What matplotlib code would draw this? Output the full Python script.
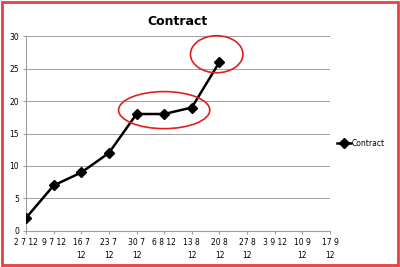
import numpy as np
import matplotlib.pyplot as plt
from matplotlib.patches import Ellipse, Rectangle

# Dati
dates = ['2 7 12', '9 7 12', '16 7\n12', '23 7\n12', '30 7\n12', '6 8 12',
         '13 8\n12', '20 8\n12', '27 8\n12', '3 9 12', '10 9\n12', '17 9\n12']
contract = [2, 7, 9, 12, 18, 18, 19, 26]

fig = plt.figure(figsize=(4, 2.67), dpi=100)
ax = fig.add_axes([0.065, 0.135, 0.76, 0.73])

x = np.arange(len(dates))
ax.plot(x[:len(contract)], contract, 'k-', marker='D', markersize=5.5,
        linewidth=1.8, label='Contract', zorder=3)

ax.set_xlim(0, len(dates) - 1)
ax.set_ylim(0, 30)
ax.set_yticks(np.arange(0, 31, 5))
ax.set_xticks(x)
ax.set_xticklabels(dates, fontsize=5.5, linespacing=1.6)
ax.tick_params(axis='y', labelsize=5.5, length=2, color='#a0a0a0', pad=3)
ax.tick_params(axis='x', length=2, color='#a0a0a0', pad=3)
ax.grid(axis='y', color='#a0a0a0', linewidth=0.7)
ax.set_axisbelow(True)
for s in ['top', 'right']:
    ax.spines[s].set_visible(False)
for s in ['left', 'bottom']:
    ax.spines[s].set_color('#a0a0a0')
    ax.spines[s].set_linewidth(0.8)

ax.set_title('Contract', fontsize=9, fontweight='bold', pad=8)

# ellissi rosse
ax.add_patch(Ellipse((5.0, 18.6), 3.3, 5.7, fill=False, edgecolor='#e02020',
                     linewidth=1.2, clip_on=False, zorder=4))
ax.add_patch(Ellipse((6.9, 27.2), 1.9, 5.7, fill=False, edgecolor='#e02020',
                     linewidth=1.2, clip_on=False, zorder=4))

ax.legend(loc='center left', bbox_to_anchor=(1.0, 0.45), frameon=False,
          fontsize=5.5, handlelength=1.8, handletextpad=0.1)

# bordo rosso
fig.patches.append(Rectangle((0.005, 0.008), 0.99, 0.985, transform=fig.transFigure,
                             fill=False, edgecolor='#e84040', linewidth=2))

fig.savefig('out.png', dpi=100)
